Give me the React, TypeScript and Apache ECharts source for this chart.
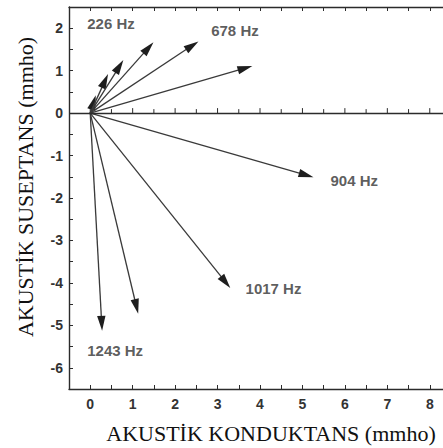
import React, { useEffect, useRef } from "react";
import * as echarts from "echarts";

// Admittance vectors (conductance G, susceptance B) in mmho
const frequencies = ["226 Hz", "339 Hz", "452 Hz", "565 Hz", "678 Hz", "791 Hz", "904 Hz", "1017 Hz", "1130 Hz", "1243 Hz"];
const conductance = [0.13, 0.42, 0.78, 1.49, 2.55, 3.82, 5.26, 3.3, 1.13, 0.28];
const susceptance = [0.42, 0.92, 1.25, 1.67, 1.69, 1.11, -1.51, -4.12, -4.73, -5.13];

// Annotation labels (left-middle anchor)
const labelTexts = ["226 Hz", "678 Hz", "904 Hz", "1017 Hz", "1243 Hz"];
const labelX = [-0.07, 2.85, 5.66, 3.66, -0.07];
const labelY = [2.12, 1.95, -1.58, -4.14, -5.6];

// Tick marks drawn on the zero line
const zeroLineTicks = [0, 0.5, 1, 1.5, 2, 2.5, 3, 3.5, 4, 4.5, 5, 5.5, 6, 6.5, 7, 7.5, 8, 8.5];

const xAxisTitle = "AKUSTİK KONDUKTANS (mmho)";
const yAxisTitle = "AKUSTİK SUSEPTANS (mmho)";

const INK = "#2b2b2b";
const TICK_FONT = { fontFamily: "Liberation Sans, Arial, sans-serif", fontWeight: "bold" as const, fontSize: 14, color: "#333" };
const TITLE_FONT = { fontFamily: '"Liberation Serif", "Times New Roman", serif', fontSize: 22, color: "#111" };

export default function App() {
  const ref = useRef<HTMLDivElement>(null);
  useEffect(() => {
    if (!ref.current) return;
    const chart = echarts.init(ref.current, undefined, { renderer: "svg" });
    const intLabel = (v: number) => (Math.abs(v - Math.round(v)) < 1e-6 ? String(Math.round(v)) : "");
    const axisLine = { show: true, lineStyle: { color: INK, width: 1.4 } };
    chart.setOption({
      animation: false,
      backgroundColor: "#fff",
      grid: { left: 69, top: 7, width: 382, height: 382, containLabel: false, outerBoundsMode: "none" },
      xAxis: [
        {
          type: "value", position: "bottom", min: -0.5, max: 8.5, interval: 0.5,
          name: xAxisTitle,
          nameLocation: "middle",
          nameGap: 33,
          nameTextStyle: { ...TITLE_FONT, padding: [0, 0, 0, 22] },
          axisLine: { ...axisLine, onZero: false },
          axisTick: { show: true, inside: true, length: 4, lineStyle: { color: INK } },
          axisLabel: { ...TICK_FONT, margin: 8, formatter: intLabel, showMinLabel: false, showMaxLabel: false },
          splitLine: { show: false },
        },
        {
          type: "value", position: "top", min: -0.5, max: 8.5, interval: 0.5,
          axisLine: { ...axisLine, onZero: false },
          axisTick: { show: true, inside: true, length: 4, lineStyle: { color: INK } },
          axisLabel: { show: false },
          splitLine: { show: false },
        },
      ],
      yAxis: [
        {
          type: "value", min: -6.5, max: 2.5, interval: 0.5,
          axisLine: { ...axisLine, onZero: false },
          axisTick: { show: true, inside: true, length: 4, lineStyle: { color: INK } },
          axisLabel: { ...TICK_FONT, margin: 6, formatter: intLabel, showMinLabel: false, showMaxLabel: false },
          splitLine: { show: false },
        },
      ],
      graphic: [
        {
          type: "text",
          x: 25,
          y: 187,
          rotation: Math.PI / 2,
          style: {
            text: yAxisTitle,
            font: '22px "Liberation Serif", "Times New Roman", serif',
            fill: "#111",
            align: "center",
            verticalAlign: "middle",
          },
        },
      ],
      series: [
        {
          type: "custom",
          xAxisIndex: 0,
          yAxisIndex: 0,
          data: zeroLineTicks.map((t) => [t, 0]),
          renderItem: (params: any, api: any) => {
            const p = api.coord([api.value(0), api.value(1)]);
            const major = Math.abs(api.value(0) - Math.round(api.value(0))) < 1e-6;
            return {
              type: "line",
              shape: { x1: p[0], y1: p[1], x2: p[0], y2: p[1] - (major ? 5 : 4) },
              style: { stroke: INK, lineWidth: 1 },
            };
          },
          markLine: {
            silent: true,
            symbol: "none",
            label: { show: false },
            lineStyle: { color: INK, width: 1.3, type: "solid" },
            data: [{ yAxis: 0 }],
          },
          z: 3,
        },
        {
          type: "custom",
          xAxisIndex: 0,
          yAxisIndex: 0,
          name: "vectors",
          data: frequencies.map((f, i) => ({ name: f, value: [conductance[i], susceptance[i]] })),
          renderItem: (params: any, api: any) => {
            const o = api.coord([0, 0]);
            const t = api.coord([api.value(0), api.value(1)]);
            const dx = t[0] - o[0];
            const dy = t[1] - o[1];
            const len = Math.sqrt(dx * dx + dy * dy) || 1;
            const ux = dx / len;
            const uy = dy / len;
            const headL = 15;
            const headW = 4.2;
            const bx = t[0] - ux * headL;
            const by = t[1] - uy * headL;
            return {
              type: "group",
              children: [
                {
                  type: "line",
                  shape: { x1: o[0], y1: o[1], x2: bx + ux * 2, y2: by + uy * 2 },
                  style: { stroke: "#3a3a3a", lineWidth: 1.3 },
                },
                {
                  type: "polygon",
                  shape: {
                    points: [
                      [t[0], t[1]],
                      [bx - uy * headW, by + ux * headW],
                      [bx + uy * headW, by - ux * headW],
                    ],
                  },
                  style: { fill: "#1e1e1e" },
                },
              ],
            };
          },
          z: 4,
        },
        {
          type: "scatter",
          xAxisIndex: 0,
          yAxisIndex: 0,
          symbolSize: 0,
          silent: true,
          data: labelTexts.map((t, i) => ({ name: t, value: [labelX[i], labelY[i]] })),
          label: {
            show: true,
            position: "right",
            distance: 0,
            formatter: (p: any) => p.name,
            fontFamily: "Liberation Sans, Arial, sans-serif",
            fontWeight: "bold",
            fontSize: 15,
            color: "#333",
          },
          z: 5,
        },
      ],
    });
    return () => chart.dispose();
  }, []);
  return (
    <div
      ref={ref}
      style={{ position: "fixed", left: 0, top: 0, width: 443, height: 448, background: "#fff", overflow: "hidden" }}
    />
  );
}
